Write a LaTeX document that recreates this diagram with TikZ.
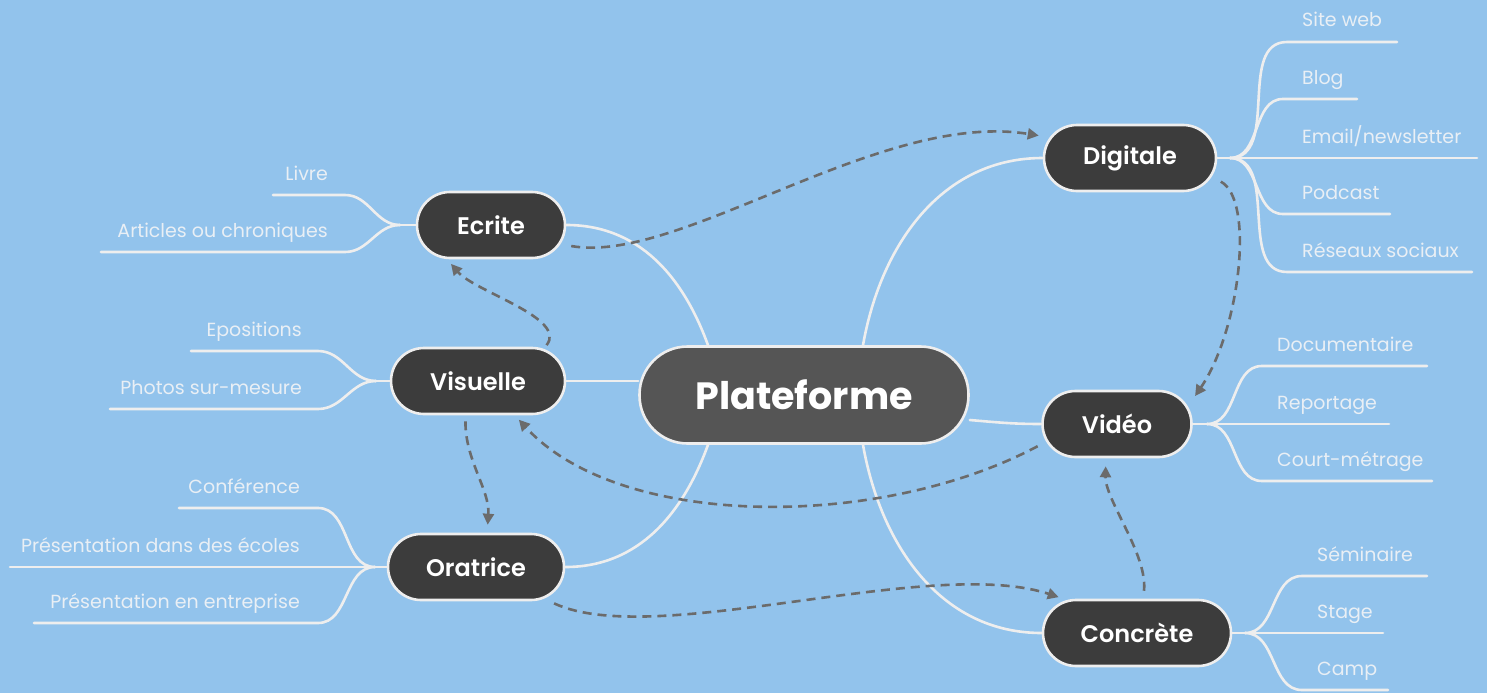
\documentclass[tikz,border=0pt]{standalone}
\usepackage{fontspec}
\setmainfont{Poppins}
\newfontfamily\semib{Poppins SemiBold}
\usetikzlibrary{arrows.meta}
\pgfdeclarelayer{bg}
\pgfsetlayers{bg,main}
\definecolor{bgblue}{HTML}{92C3EC}
\definecolor{boxdark}{HTML}{3C3C3C}
\definecolor{boxmid}{HTML}{555555}
\definecolor{edgecol}{HTML}{EEEEEE}
\definecolor{leaftext}{HTML}{E9EFF5}
\definecolor{dashcol}{HTML}{6B6B6B}
\newcommand\myleafR[7]{%
  \coordinate (#1a) at (#4,#6);
  \coordinate (#1b) at (#5,#6);
  \node[leaf,anchor=base west] (#1) at (#7,#6-15) {#2};
  \begin{pgfonlayer}{bg}\draw[branch] (#3) to[out=0,in=180] (#1a) -- (#1b);\end{pgfonlayer}
}
\newcommand\myleafL[7]{%
  \coordinate (#1a) at (#4,#6);
  \coordinate (#1b) at (#5,#6);
  \node[leaf,anchor=base east] (#1) at (#7,#6-15) {#2};
  \begin{pgfonlayer}{bg}\draw[branch] (#3) to[out=180,in=0] (#1a) -- (#1b);\end{pgfonlayer}
}
\begin{document}
\begin{tikzpicture}[x=1pt,y=-1pt,
  topic/.style={rectangle, rounded corners=33pt, draw=edgecol, line width=2.6pt, fill=boxdark,
    text=white, inner sep=0pt, minimum height=66pt, font=\fontsize{24}{27}\selectfont\semib},
  central/.style={rectangle, rounded corners=48pt, draw=edgecol, line width=2.6pt, fill=boxmid,
    text=white, inner sep=0pt, minimum height=97pt, minimum width=329pt, font=\fontsize{38}{42}\selectfont\bfseries},
  leaf/.style={text=leaftext, inner sep=0pt, font=\fontsize{19}{22}\selectfont},
  branch/.style={draw=edgecol, line width=2.6pt, line cap=round},
  rel/.style={draw=dashcol, line width=2.6pt, dash pattern=on 9pt off 6pt,
    -{Triangle[length=11pt,width=11pt]}}
]
\begin{pgfonlayer}{bg}
\fill[bgblue] (0,0) rectangle (1487,693);
\end{pgfonlayer}
\useasboundingbox (0,0) rectangle (1487,693);

% main nodes
\node[central] (plat) at (804,395) {Plateforme};
\node[topic, minimum width=148pt] (ecr) at (491,225) {Ecrite};
\node[topic, minimum width=174pt] (vis) at (478,381) {Visuelle};
\node[topic, minimum width=176pt] (ora) at (476,567) {Oratrice};
\node[topic, minimum width=172pt] (dig) at (1130,158) {Digitale};
\node[topic, minimum width=149pt] (vid) at (1117,424) {Vidéo};
\node[topic, minimum width=188pt] (con) at (1137,633) {Concrète};

% main branches
\begin{pgfonlayer}{bg}
\draw[branch] (ecr.east) to[out=0,in=110] ([xshift=-96pt]plat.north);
\draw[branch] (vis.east) -- (vis.east -| plat.west);
\draw[branch] (ora.east) to[out=0,in=250] ([xshift=-96pt]plat.south);
\draw[branch] ([xshift=59pt]plat.north) to[out=80,in=180] (dig.west);
\draw[branch] ([yshift=-25pt]plat.east) to[out=-5,in=180] (vid.west);
\draw[branch] ([xshift=59pt]plat.south) to[out=-80,in=180] (con.west);
\end{pgfonlayer}

% branch points
\coordinate (digB) at (1230,158);
\coordinate (vidB) at (1207,424);
\coordinate (conB) at (1245,633);
\coordinate (ecrB) at (400,225);
\coordinate (visB) at (376,381);
\coordinate (oraB) at (375,567);
\begin{pgfonlayer}{bg}
\draw[branch] (dig.east) -- (digB);
\draw[branch] (vid.east) -- (vidB);
\draw[branch] (con.east) -- (conB);
\draw[branch] (ecr.west) -- (ecrB);
\draw[branch] (vis.west) -- (visB);
\draw[branch] (ora.west) -- (oraB);
\end{pgfonlayer}

% Digitale leaves
\myleafR{sw}{Site web}{digB}{1287}{1397}{42}{1302}
\myleafR{bl}{Blog}{digB}{1283}{1357}{99}{1302}
\myleafR{em}{Email/newsletter}{digB}{1283}{1477}{158}{1302}
\myleafR{po}{Podcast}{digB}{1283}{1390}{214}{1302}
\myleafR{rs}{Réseaux sociaux}{digB}{1287}{1472}{272}{1302}

% Vidéo leaves
\myleafR{doc}{Documentaire}{vidB}{1262}{1427}{366}{1277}
\myleafR{rep}{Reportage}{vidB}{1262}{1389}{424}{1277}
\myleafR{cm}{Court-métrage}{vidB}{1262}{1432}{481}{1277}

% Concrète leaves
\myleafR{sem}{Séminaire}{conB}{1302}{1427}{576}{1317}
\myleafR{stg}{Stage}{conB}{1302}{1383}{633}{1317}
\myleafR{cmp}{Camp}{conB}{1302}{1388}{690}{1317}

% Ecrite leaves
\myleafL{liv}{Livre}{ecrB}{345}{273}{195}{328}
\myleafL{art}{Articles ou chroniques}{ecrB}{345}{101}{252}{328}

% Visuelle leaves
\myleafL{epo}{Epositions}{visB}{318}{191}{351}{302}
\myleafL{pho}{Photos sur-mesure}{visB}{318}{110}{409}{302}

% Oratrice leaves
\myleafL{conf}{Conférence}{oraB}{318}{179}{508}{300}
\myleafL{pde}{Présentation dans des écoles}{oraB}{318}{10}{567}{300}
\myleafL{pee}{Présentation en entreprise}{oraB}{318}{34}{623}{300}

% relations (dashed)
\draw[rel, shorten <=5pt, shorten >=4pt] (ecr.-15) .. controls (680,265) and (880,110) .. (dig.166);
\draw[rel, shorten <=4pt, shorten >=4pt] (dig.-14) .. controls (1255,200) and (1240,330) .. (vid.18);
\draw[rel, shorten <=4pt, shorten >=6pt] (vid.195) .. controls (880,530) and (620,530) .. (vis.-43);
\draw[rel, shorten <=2pt, shorten >=6pt] (vis.27) .. controls (568,318) and (475,292) .. (ecr.218);
\draw[rel, shorten <=6pt, shorten >=8pt] (vis.250) .. controls (465,460) and (490,490) .. (ora.72);
\draw[rel, shorten <=5pt, shorten >=5pt] (ora.-25) .. controls (655,650) and (930,555) .. (con.155);
\draw[rel, shorten <=8pt, shorten >=8pt] (con.80) .. controls (1148,555) and (1105,500) .. (vid.252);
\end{tikzpicture}
\end{document}
